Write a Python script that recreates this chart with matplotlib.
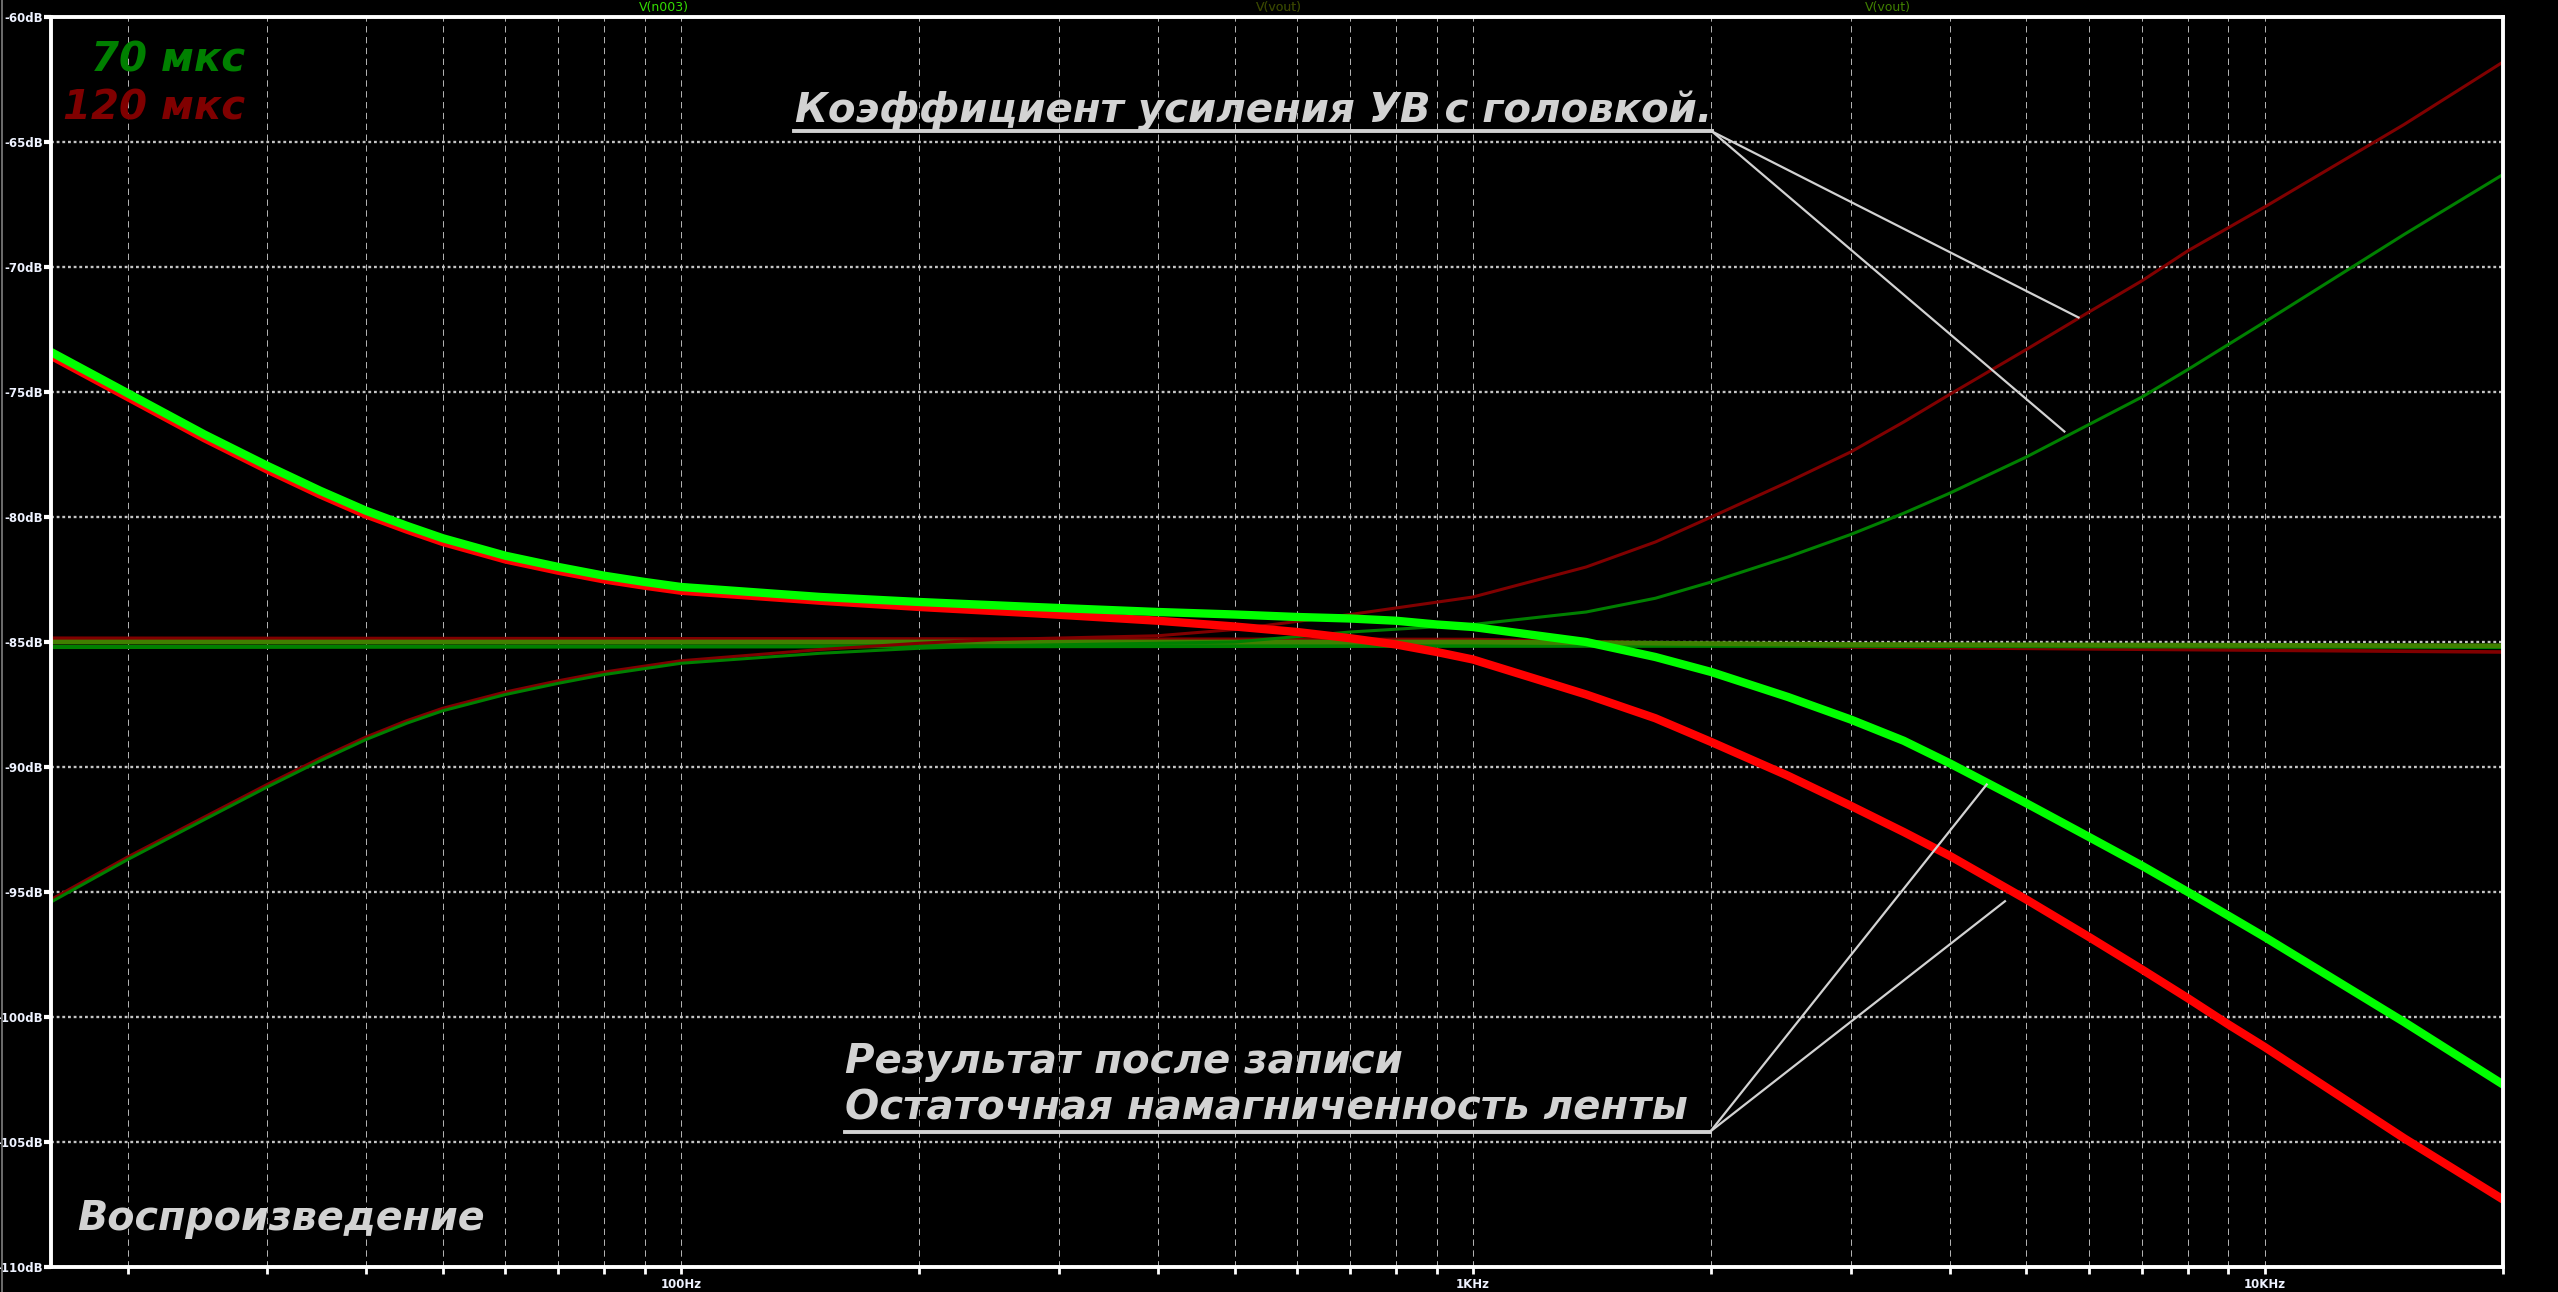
#!/usr/bin/env python3
"""LTspice-style playback response: 70 us vs 120 us, head amp gain and tape flux."""

import matplotlib
matplotlib.use("Agg")
import matplotlib.pyplot as plt
from matplotlib.lines import Line2D
from matplotlib.ticker import FixedLocator, FixedFormatter, LogLocator, NullFormatter


# heavy traces: result after recording (playback of recorded tape)
F_PLAY = [16, 20, 25, 30, 35, 40, 45, 50, 60, 70, 80, 90, 100, 150, 200, 279, 400,
          500, 600, 700, 800, 900, 1000, 1390, 1700, 2000, 2500, 3000, 3500, 4000,
          5000, 6000, 7000, 8000, 9000, 10000, 15000, 20000]
PLAY_70 = [-73.4, -75.05, -76.7, -77.95, -78.95, -79.75, -80.35, -80.85, -81.55,
           -82.0, -82.35, -82.6, -82.8, -83.2, -83.4, -83.6, -83.8, -83.9, -84.0,
           -84.06, -84.15, -84.3, -84.4, -85.0, -85.6, -86.2, -87.2, -88.1, -88.95,
           -89.85, -91.45, -92.8, -93.95, -95.0, -95.95, -96.8, -100.2, -102.7]
PLAY_120 = [-73.55, -75.2, -76.85, -78.1, -79.1, -79.9, -80.5, -81.0, -81.7,
            -82.15, -82.5, -82.75, -82.95, -83.35, -83.6, -83.85, -84.15, -84.38,
            -84.6, -84.85, -85.1, -85.4, -85.7, -87.1, -88.05, -89.0, -90.35,
            -91.55, -92.6, -93.55, -95.3, -96.8, -98.1, -99.25, -100.3, -101.2,
            -104.85, -107.3]

# thin traces: gain of the playback amplifier with the head
F_AMP = [16, 20, 25, 30, 35, 40, 45, 50, 60, 70, 80, 100, 150, 200, 250, 400, 500,
         700, 1000, 1390, 1700, 2000, 2500, 3000, 3500, 4000, 5000, 6000, 7000,
         8000, 10000, 15000, 20000]
AMP_70 = [-95.4, -93.7, -92.1, -90.8, -89.75, -88.9, -88.25, -87.75, -87.1,
          -86.65, -86.3, -85.85, -85.45, -85.25, -85.15, -85.05, -85.0, -84.6,
          -84.3, -83.8, -83.25, -82.6, -81.6, -80.7, -79.85, -79.05, -77.6, -76.3,
          -75.2, -74.1, -72.2, -68.7, -66.3]
AMP_120 = [-95.3, -93.6, -92.0, -90.7, -89.65, -88.8, -88.15, -87.65, -87.0,
           -86.55, -86.2, -85.75, -85.3, -85.05, -84.9, -84.75, -84.5, -83.9,
           -83.2, -82.0, -81.0, -80.0, -78.6, -77.4, -76.2, -75.1, -73.3, -71.8,
           -70.55, -69.35, -67.6, -64.3, -61.8]

# nearly flat traces around -85 dB: residual tape magnetisation
F_FLAT = [16, 1000, 3000, 20000]
FLAT_120 = [-84.85, -84.9, -85.2, -85.4]
FLAT_70 = [-85.2, -85.15, -85.15, -85.2]
FLAT_OUT = [-85.0, -85.0, -85.1, -85.15]

Y_TICKS = [-110, -105, -100, -95, -90, -85, -80, -75, -70, -65, -60]
Y_LABELS = [f"{v}dB" for v in Y_TICKS]
X_TICKS = [100, 1000, 10000]
X_LABELS = ["100Hz", "1KHz", "10KHz"]

TEXT_GRAY = "#d2d2d2"
TICK_COL = "#eef2ff"
ANN_FONT = dict(family="DejaVu Sans", weight="bold", style="italic")


def main() -> None:
    W, H = 2558, 1292
    fig = plt.figure(figsize=(W / 100, H / 100), dpi=100, facecolor="black")
    ax = fig.add_axes([51 / W, 25 / H, 2452 / W, 1250 / H], facecolor="black")

    # residual magnetisation (flat)
    ax.plot(F_FLAT, FLAT_120, color="#800000", lw=2.6, zorder=3)
    ax.plot(F_FLAT, FLAT_70, color="#008000", lw=3.0, zorder=3)
    ax.plot(F_FLAT, FLAT_OUT, color="#408000", lw=3.4, zorder=3)
    # amplifier + head gain (thin)
    ax.plot(F_AMP, AMP_120, color="#800000", lw=2.2, zorder=4,
            solid_joinstyle="round")
    ax.plot(F_AMP, AMP_70, color="#008000", lw=2.2, zorder=4,
            solid_joinstyle="round")
    # result after recording (heavy)
    ax.plot(F_PLAY, PLAY_120, color="#ff0000", lw=6.0, zorder=5,
            solid_capstyle="round", solid_joinstyle="round")
    ax.plot(F_PLAY, PLAY_70, color="#00ff00", lw=6.0, zorder=6,
            solid_capstyle="round", solid_joinstyle="round")

    ax.set_xscale("log")
    ax.set_xlim(16, 20000)
    ax.set_ylim(-110, -60)

    ax.xaxis.set_major_locator(FixedLocator(X_TICKS))
    ax.xaxis.set_major_formatter(FixedFormatter(X_LABELS))
    ax.xaxis.set_minor_locator(LogLocator(base=10, subs=range(2, 10)))
    ax.xaxis.set_minor_formatter(NullFormatter())
    ax.yaxis.set_major_locator(FixedLocator(Y_TICKS))
    ax.yaxis.set_major_formatter(FixedFormatter(Y_LABELS))

    ax.grid(which="both", axis="x", color="#c4c4c4", lw=0.65,
            ls=(0, (7, 5)), zorder=1)
    ax.grid(which="major", axis="y", color="#c4c4c4", lw=1.7,
            ls=(0, (1.2, 1.2)), zorder=1)

    for s in ax.spines.values():
        s.set_color("white")
        s.set_linewidth(2.8)
        s.set_zorder(8)

    ax.tick_params(axis="x", which="both", direction="out", colors="white",
                   length=5, width=2, labelsize=8.5, pad=3,
                   labelcolor=TICK_COL)
    ax.tick_params(axis="y", which="major", direction="out", colors="white",
                   length=5, width=3, labelsize=8.5, pad=1,
                   labelcolor=TICK_COL)
    for lab in ax.get_xticklabels() + ax.get_yticklabels():
        lab.set_fontweight("bold")

    # trace names on top
    fig.text(664 / W, 1 - 7 / H, "V(n003)", color="#33dd00", fontsize=9,
             ha="center", va="center")
    fig.text(1279 / W, 1 - 7 / H, "V(vout)", color="#008000", fontsize=9,
             ha="center", va="center")
    fig.text(1279 / W, 1 - 8 / H, "V(vout)", color="#800000", fontsize=9,
             ha="center", va="center", alpha=0.5)
    fig.text(1888 / W, 1 - 7 / H, "V(vout)", color="#408000", fontsize=9,
             ha="center", va="center")

    # legend-like labels
    fig.text(245 / W, 1 - 72 / H, "70 мкс", color="#008000", fontsize=29,
             ha="right", va="baseline", **ANN_FONT)
    fig.text(245 / W, 1 - 119 / H, "120 мкс", color="#800000", fontsize=29,
             ha="right", va="baseline", **ANN_FONT)
    fig.text(77 / W, 1 - 1230 / H, "Воспроизведение", color=TEXT_GRAY,
             fontsize=28.5, ha="left", va="baseline", **ANN_FONT)

    # gain annotation
    fig.text(795 / W, 1 - 122 / H, "Коэффициент усиления УВ с головкой.",
             color=TEXT_GRAY, fontsize=29, ha="left", va="baseline", **ANN_FONT)
    ax.plot([139, 2005], [-64.54, -64.54], color=TEXT_GRAY, lw=2.8,
            zorder=7, clip_on=False)
    for fx, dbx in [(5820, -72.02), (5585, -76.58)]:
        ax.plot([2005, fx], [-64.58, dbx], color=TEXT_GRAY, lw=1.6, zorder=7)

    # record / residual annotation
    fig.text(845 / W, 1 - 1073 / H, "Результат после записи",
             color=TEXT_GRAY, fontsize=29, ha="left", va="baseline", **ANN_FONT)
    fig.text(845 / W, 1 - 1120 / H, "Остаточная намагниченность ленты",
             color=TEXT_GRAY, fontsize=29, ha="left", va="baseline", **ANN_FONT)
    ax.plot([161, 1995], [-104.58, -104.58], color=TEXT_GRAY, lw=2.8, zorder=7)
    for fx, dbx in [(4456, -90.7), (4699, -95.37)]:
        ax.plot([1995, fx], [-104.58, dbx], color=TEXT_GRAY, lw=1.6, zorder=7)

    fig.add_artist(Line2D([2 / W, 2 / W], [0, 1], color="#808080", lw=1.2))

    fig.savefig("out.png", dpi=100, facecolor="black")
    plt.close(fig)


if __name__ == "__main__":
    main()
